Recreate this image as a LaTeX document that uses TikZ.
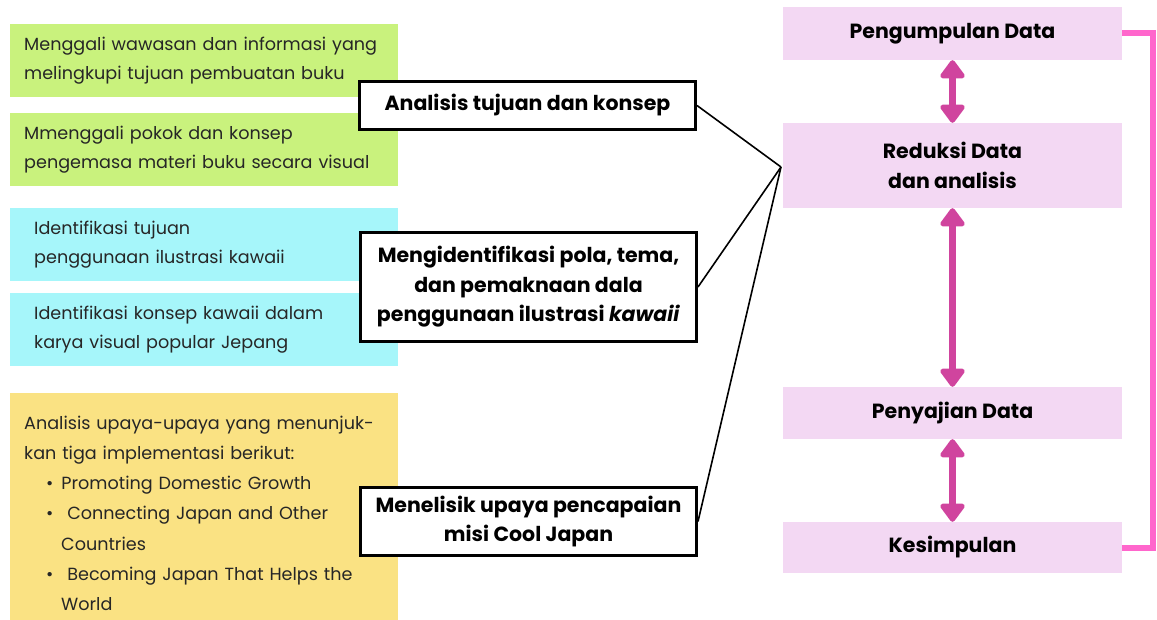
\documentclass[tikz,border=0pt]{standalone}
\usepackage{fontspec}
\setmainfont{Poppins}
\usetikzlibrary{arrows.meta,positioning}
\definecolor{lime}{RGB}{201,242,125}
\definecolor{aqua}{RGB}{166,246,250}
\definecolor{sand}{RGB}{250,226,131}
\definecolor{lilac}{RGB}{243,216,243}
\definecolor{berry}{RGB}{208,68,158}
\definecolor{rose}{RGB}{255,102,204}
\newcommand{\bul}{\hspace*{22pt}\textbullet\hspace{8pt}}

\tikzset{
  leftbox/.style={fill=#1,anchor=north west,minimum height=73pt,align=left,
    font=\fontsize{17.6}{29}\selectfont,text=black!85,inner ysep=0pt},
  stepbox/.style={draw=black,line width=3pt,fill=white,align=center,
    font=\bfseries\fontsize{20.5}{29.5}\selectfont,minimum width=336pt},
  databox/.style={fill=lilac,align=center,minimum width=339pt,
    font=\bfseries\fontsize{20.5}{30}\selectfont},
  dblarrow/.style={berry,line width=7pt,
    {Triangle[width=28pt,length=20pt,round]}-{Triangle[width=28pt,length=20pt,round]}},
  link/.style={black,line width=1.6pt}
}

\begin{document}
\begin{tikzpicture}[x=1pt,y=-1pt]
        \useasboundingbox[fill=white] (0,0) rectangle (1157,620);
        % left column
        \foreach \y/\c/\s/\t [count=\i] in {
          24/lime/14/Menggali wawasan dan informasi yang\\ melingkupi tujuan pembuatan buku,
          113/lime/14/Mmenggali pokok dan konsep\\ pengemasa materi buku secara visual,
          208/aqua/24/Identifikasi tujuan\\ penggunaan ilustrasi kawaii,
          293/aqua/24/Identifikasi konsep kawaii dalam\\ karya visual popular Jepang}{
          \node[leftbox=\c,inner xsep=\s pt,text width=388pt-2*\s pt] (l\i) at (10,\y) {\t};
        }
        \node[leftbox=sand,inner xsep=14pt,text width=360pt,minimum height=240pt,
          font=\fontsize{17.6}{30.2}\selectfont] (l5) at (10,393) {Analisis upaya-upaya yang menunjuk-\\
          kan tiga implementasi berikut:\\
          \bul Promoting Domestic Growth\\
          \bul\ Connecting Japan and Other\\
          \hspace*{37pt}Countries\\
          \bul\ Becoming Japan That Helps the\\
          \hspace*{37pt}World};
        % middle column
        \node[stepbox,minimum height=48pt] (a1) at (527.5,105.5) {Analisis tujuan dan konsep};
        \node[stepbox,minimum height=109pt] (a2) at (528.5,287) {Mengidentifikasi pola, tema,\\ dan pemaknaan dala\\ penggunaan ilustrasi \textit{kawaii}};
        \node[stepbox,minimum height=68pt] (a3) at (528.5,521.5) {Menelisik upaya pencapaian\\ misi Cool Japan};
        % right column
        \foreach \y/\h/\t [count=\i] in {
          33.5/53/Pengumpulan Data,
          165.5/85/Reduksi Data\\ dan analisis,
          413/52/Penyajian Data,
          547.5/51/Kesimpulan}{
          \node[databox,minimum height=\h pt] (d\i) at (952.5,\y) {\t};
        }
        \coordinate (hub) at (781,167);
        \foreach \i in {1,2,3}
          \draw[link] (a\i.east) -- (hub);
        \foreach \i/\j in {1/2,2/3,3/4}
          \draw[dblarrow] (d\i) -- (d\j);
        \draw[rose,line width=6pt] (d1.east) -- ++(31,0) |- (d4.east);
      \end{tikzpicture}
\end{document}
